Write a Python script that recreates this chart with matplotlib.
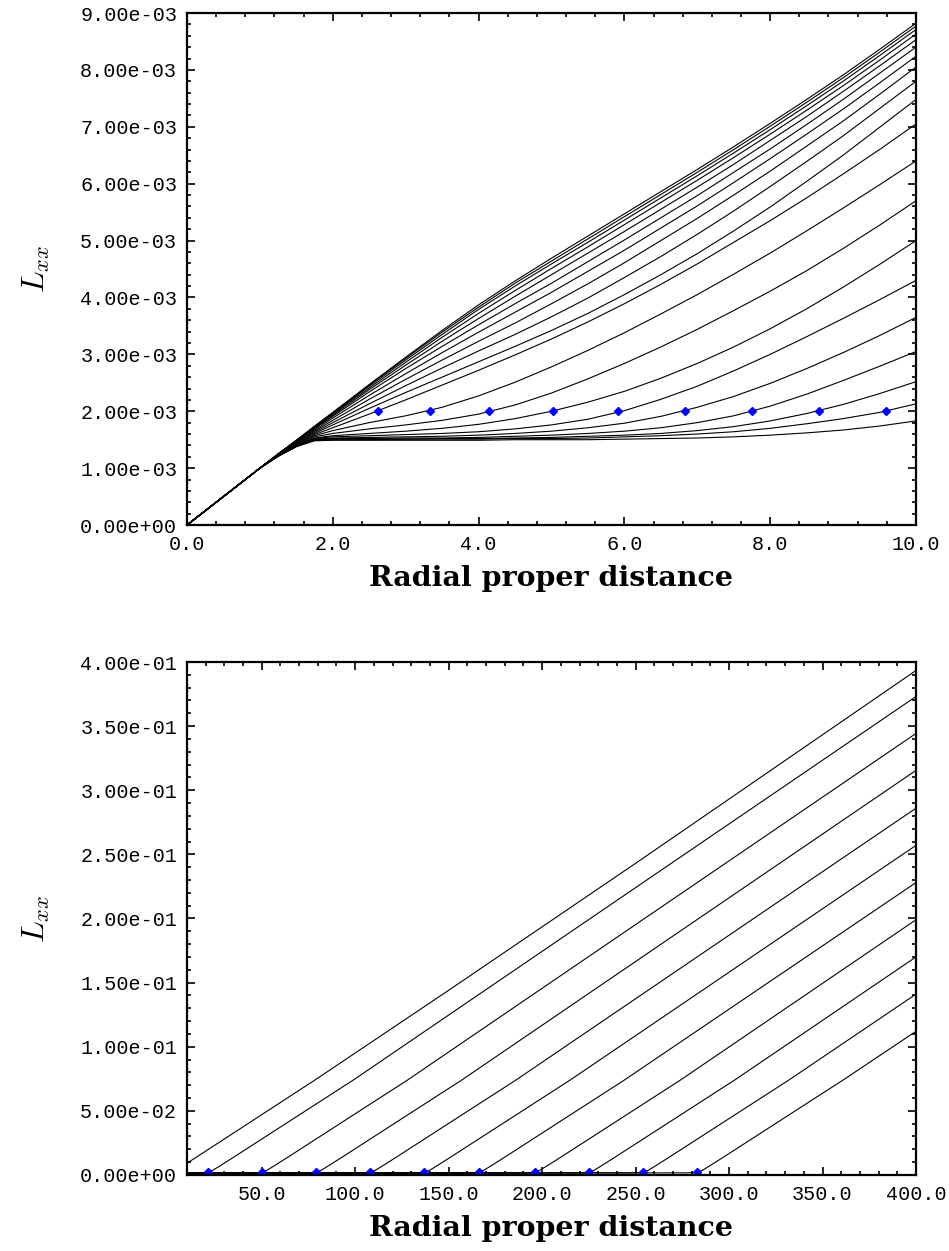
import matplotlib
matplotlib.use("Agg")
import matplotlib.pyplot as plt
from matplotlib.ticker import FormatStrFormatter, MultipleLocator

plt.rcParams["mathtext.fontset"] = "cm"

# ---- top panel: L_xx curves (units of 1e-3) on a common radial grid ----
x_top = [0, 1.0, 1.25, 1.5, 1.75, 2.0, 2.5, 3.0, 3.5, 4.0, 4.5, 5.0, 5.5,
         6.0, 6.5, 7.0, 7.5, 8.0, 8.5, 9.0, 9.5, 10.0]
top_curves = [
    [0, 1.00, 1.25, 1.49, 1.74, 1.98, 2.47, 2.95, 3.42, 3.87, 4.29, 4.69, 5.08, 5.47, 5.86, 6.25, 6.65, 7.06, 7.48, 7.91, 8.36, 8.82],
    [0, 1.00, 1.25, 1.49, 1.73, 1.97, 2.46, 2.93, 3.39, 3.83, 4.25, 4.64, 5.03, 5.42, 5.81, 6.20, 6.60, 7.01, 7.43, 7.86, 8.31, 8.77],
    [0, 1.00, 1.25, 1.48, 1.72, 1.96, 2.44, 2.90, 3.35, 3.79, 4.20, 4.59, 4.97, 5.36, 5.75, 6.14, 6.54, 6.95, 7.37, 7.80, 8.25, 8.71],
    [0, 1.00, 1.25, 1.48, 1.71, 1.95, 2.41, 2.86, 3.30, 3.72, 4.12, 4.51, 4.89, 5.28, 5.67, 6.06, 6.46, 6.87, 7.29, 7.72, 8.17, 8.63],
    [0, 1.00, 1.24, 1.47, 1.70, 1.93, 2.38, 2.81, 3.23, 3.63, 4.02, 4.40, 4.78, 5.16, 5.55, 5.94, 6.34, 6.76, 7.18, 7.62, 8.07, 8.53],
    [0, 1.00, 1.24, 1.47, 1.69, 1.91, 2.34, 2.75, 3.14, 3.52, 3.89, 4.25, 4.63, 5.01, 5.40, 5.79, 6.20, 6.61, 7.04, 7.48, 7.94, 8.40],
    [0, 1.00, 1.24, 1.46, 1.67, 1.88, 2.28, 2.66, 3.03, 3.39, 3.74, 4.09, 4.46, 4.83, 5.22, 5.61, 6.02, 6.44, 6.87, 7.31, 7.77, 8.24],
    [0, 1.00, 1.24, 1.45, 1.65, 1.84, 2.21, 2.56, 2.90, 3.23, 3.55, 3.89, 4.24, 4.61, 5.00, 5.39, 5.80, 6.22, 6.66, 7.10, 7.57, 8.05],
    [0, 1.00, 1.23, 1.44, 1.63, 1.80, 2.13, 2.45, 2.76, 3.06, 3.35, 3.66, 3.99, 4.35, 4.72, 5.11, 5.52, 5.95, 6.39, 6.84, 7.32, 7.80],
    [0, 1.00, 1.23, 1.43, 1.61, 1.76, 2.05, 2.33, 2.60, 2.87, 3.14, 3.42, 3.72, 4.05, 4.40, 4.77, 5.17, 5.59, 6.04, 6.50, 6.99, 7.48],
    [0, 1.00, 1.23, 1.42, 1.59, 1.71, 1.95, 2.20, 2.46, 2.72, 2.99, 3.27, 3.57, 3.89, 4.23, 4.59, 4.97, 5.35, 5.75, 6.17, 6.60, 7.05],
    [0, 1.00, 1.22, 1.41, 1.57, 1.66, 1.80, 1.92, 2.07, 2.27, 2.51, 2.78, 3.07, 3.38, 3.71, 4.05, 4.41, 4.78, 5.17, 5.57, 5.98, 6.40],
    [0, 1.00, 1.22, 1.40, 1.55, 1.61, 1.69, 1.76, 1.84, 1.95, 2.11, 2.32, 2.57, 2.84, 3.13, 3.44, 3.77, 4.11, 4.47, 4.86, 5.27, 5.70],
    [0, 1.00, 1.22, 1.39, 1.53, 1.57, 1.61, 1.65, 1.70, 1.77, 1.87, 2.00, 2.16, 2.35, 2.58, 2.84, 3.13, 3.45, 3.80, 4.18, 4.58, 5.00],
    [0, 1.00, 1.21, 1.39, 1.52, 1.55, 1.57, 1.59, 1.61, 1.64, 1.69, 1.76, 1.86, 2.01, 2.21, 2.44, 2.71, 3.00, 3.31, 3.63, 3.96, 4.30],
    [0, 1.00, 1.21, 1.38, 1.51, 1.53, 1.54, 1.55, 1.56, 1.58, 1.61, 1.65, 1.71, 1.79, 1.91, 2.07, 2.26, 2.49, 2.75, 3.03, 3.33, 3.65],
    [0, 1.00, 1.21, 1.38, 1.50, 1.52, 1.52, 1.53, 1.53, 1.54, 1.56, 1.58, 1.61, 1.65, 1.71, 1.80, 1.92, 2.09, 2.30, 2.54, 2.79, 3.05],
    [0, 1.00, 1.21, 1.38, 1.50, 1.51, 1.51, 1.51, 1.52, 1.52, 1.53, 1.54, 1.56, 1.58, 1.61, 1.66, 1.73, 1.83, 1.96, 2.12, 2.31, 2.52],
    [0, 1.00, 1.21, 1.38, 1.49, 1.50, 1.50, 1.51, 1.51, 1.51, 1.52, 1.52, 1.53, 1.55, 1.57, 1.60, 1.64, 1.70, 1.78, 1.87, 1.98, 2.13],
    [0, 1.00, 1.21, 1.38, 1.48, 1.49, 1.49, 1.49, 1.49, 1.49, 1.50, 1.50, 1.50, 1.51, 1.52, 1.53, 1.55, 1.58, 1.62, 1.67, 1.74, 1.83],
]
top_marker_x = [2.62, 3.33, 4.14, 5.02, 5.91, 6.83, 7.75, 8.67, 9.59]
top_marker_y = [2.0e-3] * 9

# ---- bottom panel: long-range curves ----
bot_env_x = [10, 40, 80, 150, 250, 400]
bot_env_y = [0.0091, 0.0375, 0.0755, 0.1440, 0.2430, 0.3934]
bot_lines_x = [
    [10, 15, 21, 24, 29, 36, 99, 400],
    [10, 44, 50, 53, 58, 65, 128, 400],
    [10, 73, 79, 82, 87, 94, 157, 400],
    [10, 102, 108, 111, 116, 123, 186, 400],
    [10, 131, 137, 140, 145, 152, 215, 400],
    [10, 160, 166, 169, 174, 181, 244, 400],
    [10, 190, 196, 199, 204, 211, 274, 400],
    [10, 219, 225, 228, 233, 240, 303, 400],
    [10, 248, 254, 257, 262, 269, 332, 400],
    [10, 277, 283, 286, 291, 298, 361, 400],
]
bot_lines_y = [
    [0.0015, 0.0016, 0.0020, 0.0038, 0.0083, 0.0148, 0.0740, 0.3731],
    [0.0015, 0.0016, 0.0020, 0.0038, 0.0083, 0.0148, 0.0740, 0.3443],
    [0.0015, 0.0016, 0.0020, 0.0038, 0.0083, 0.0148, 0.0740, 0.3155],
    [0.0015, 0.0016, 0.0020, 0.0038, 0.0083, 0.0148, 0.0740, 0.2860],
    [0.0015, 0.0016, 0.0020, 0.0038, 0.0083, 0.0148, 0.0740, 0.2570],
    [0.0015, 0.0016, 0.0020, 0.0038, 0.0083, 0.0148, 0.0740, 0.2280],
    [0.0015, 0.0016, 0.0020, 0.0038, 0.0083, 0.0148, 0.0740, 0.1990],
    [0.0015, 0.0016, 0.0020, 0.0038, 0.0083, 0.0148, 0.0740, 0.1700],
    [0.0015, 0.0016, 0.0020, 0.0038, 0.0083, 0.0148, 0.0740, 0.1410],
    [0.0015, 0.0016, 0.0020, 0.0038, 0.0083, 0.0148, 0.0740, 0.1120],
]
bot_marker_x = [21, 50, 79, 108, 137, 166.5, 196, 225, 254, 283]
bot_marker_y = [0.002] * 10

TICK_FONT = "Liberation Mono"


def style_axes(ax):
    for s in ax.spines.values():
        s.set_linewidth(1.6)
    ax.tick_params(which="both", direction="in", top=True, right=True, width=1.2)
    ax.tick_params(which="major", length=5.5, labelsize=14.5, pad=7)
    ax.tick_params(which="minor", length=2.8)
    for lab in ax.get_xticklabels() + ax.get_yticklabels():
        lab.set_family(TICK_FONT)
    ax.set_xlabel("Radial proper distance", fontsize=20.5, family="DejaVu Serif",
                  fontweight="bold", labelpad=8)
    ax.set_ylabel(r"$L_{xx}$", fontsize=23, labelpad=20)


fig = plt.figure(figsize=(9.49, 12.51), dpi=100)
ax1 = fig.add_axes([0.197, 0.5803, 0.7682, 0.4093])
ax2 = fig.add_axes([0.197, 0.0608, 0.7682, 0.4100])

for ys in top_curves:
    ax1.plot(x_top, [v * 1e-3 for v in ys], color="black", lw=0.8)
ax1.plot(top_marker_x, top_marker_y, ls="none", marker="D", ms=4.5, color="blue")
ax1.set_xlim(0, 10)
ax1.set_ylim(0, 9e-3)
ax1.xaxis.set_major_locator(MultipleLocator(2))
ax1.xaxis.set_minor_locator(MultipleLocator(0.4))
ax1.yaxis.set_major_locator(MultipleLocator(1e-3))
ax1.yaxis.set_minor_locator(MultipleLocator(2e-4))
ax1.xaxis.set_major_formatter(FormatStrFormatter("%.1f"))
ax1.yaxis.set_major_formatter(FormatStrFormatter("%.2e"))
style_axes(ax1)

ax2.plot(bot_env_x, bot_env_y, color="black", lw=0.8)
for xs, ys in zip(bot_lines_x, bot_lines_y):
    ax2.plot(xs, ys, color="black", lw=0.8)
ax2.plot(bot_marker_x, bot_marker_y, ls="none", marker="D", ms=4.5, color="blue")
ax2.set_xlim(10, 400)
ax2.set_ylim(0, 0.4)
ax2.xaxis.set_major_locator(MultipleLocator(50))
ax2.xaxis.set_minor_locator(MultipleLocator(10))
ax2.yaxis.set_major_locator(MultipleLocator(0.05))
ax2.yaxis.set_minor_locator(MultipleLocator(0.01))
ax2.xaxis.set_major_formatter(FormatStrFormatter("%.1f"))
ax2.yaxis.set_major_formatter(FormatStrFormatter("%.2e"))
style_axes(ax2)

fig.savefig("out.png", dpi=100)
